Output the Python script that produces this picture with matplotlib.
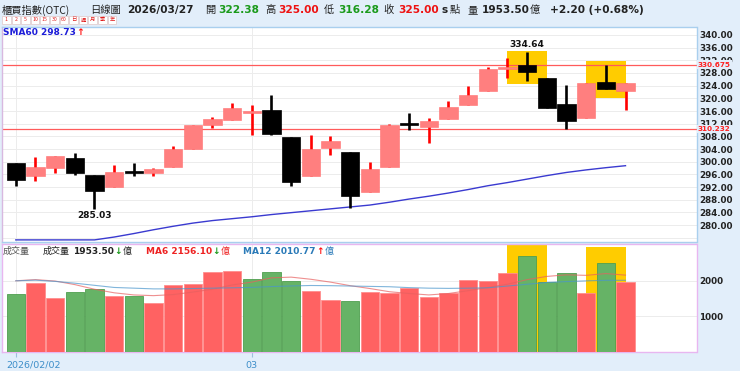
import matplotlib
matplotlib.use("Agg")
import matplotlib.pyplot as plt
import numpy as np

# ---------------- data ----------------
opens  = [299.7, 295.5, 298.1, 301.1, 295.9, 292.0, 296.9, 296.4, 298.4, 303.9,
          311.7, 313.2, 315.3, 316.3, 307.9, 295.5, 304.2, 303.0, 290.5, 298.4,
          311.7, 311.0, 313.5, 317.9, 322.4, 329.2, 330.5, 326.5, 318.1, 313.7,
          325.1, 322.38]
highs  = [299.7, 301.4, 301.7, 302.6, 295.9, 298.9, 299.5, 298.1, 305.0, 311.5,
          314.2, 318.4, 317.8, 321.1, 307.9, 308.4, 308.1, 303.0, 300.0, 311.9,
          315.3, 313.7, 319.2, 323.9, 330.0, 332.8, 334.64, 326.5, 324.2, 324.9,
          330.675, 325.00]
lows   = [292.4, 294.0, 296.5, 295.9, 285.03, 292.0, 295.5, 295.6, 298.4, 303.9,
          310.5, 313.2, 308.4, 308.3, 292.4, 295.5, 302.0, 285.5, 290.5, 298.4,
          310.0, 306.0, 313.5, 317.9, 322.4, 326.5, 325.6, 316.8, 310.232, 313.7,
          322.8, 316.28]
closes = [294.2, 298.2, 301.7, 296.3, 290.7, 296.6, 296.5, 297.7, 303.9, 311.5,
          313.4, 316.8, 316.1, 308.6, 293.7, 304.1, 306.6, 289.1, 297.6, 311.6,
          311.7, 312.8, 317.2, 321.0, 329.3, 329.7, 328.4, 317.0, 312.8, 324.9,
          322.8, 325.00]
sma60  = [275.3, 275.3, 275.3, 275.3, 275.3, 276.2, 277.3, 278.5, 279.6, 280.6,
          281.4, 282.0, 282.6, 283.3, 283.9, 284.5, 285.1, 285.7, 286.3, 287.2,
          288.2, 289.1, 290.1, 291.2, 292.4, 293.4, 294.5, 295.6, 296.6, 297.4,
          298.1, 298.73]
volumes = [1625, 1941, 1521, 1672, 1765, 1577, 1560, 1373, 1877, 1896,
           2232, 2278, 2045, 2250, 1998, 1700, 1457, 1429, 1690, 1662,
           1802, 1550, 1653, 2017, 1980, 2222, 2689, 1961, 2222, 1653,
           2484, 1953.5]
ma6  = [1997, 2030, 1990, 1890, 1760, 1660, 1600, 1580, 1610, 1680,
        1760, 1880, 1960, 2080, 2100, 2040, 1960, 1860, 1780, 1690,
        1640, 1600, 1640, 1720, 1810, 1900, 2030, 2120, 2165, 2150,
        2200, 2156.1]
ma12 = [1997, 2015, 1980, 1930, 1870, 1810, 1790, 1770, 1770, 1780,
        1790, 1800, 1812, 1835, 1852, 1865, 1860, 1850, 1840, 1830,
        1805, 1790, 1784, 1790, 1800, 1850, 1900, 1950, 1975, 1995,
        2010, 2010.77]
month_ticks = [0, 12]
month_labels = ["2026/02/02", "03"]
hi_lines = [330.675, 310.232]
highlight_idx = [26, 30]
highlight_price = [(324.4, 335.0), (320.2, 331.9)]
highlight_vol_top = [2997, 2950]
max_label = (26, 334.64)
min_label = (4, 285.03)
price_ticks = list(range(280, 341, 4))
vol_ticks = [1000, 2000]

# ---------------- figure ----------------
W, H = 740, 371
BG = '#e2eefa'
fig = plt.figure(figsize=(W / 100, H / 100), dpi=100, facecolor=BG)

def rect(x0, y0, x1, y1):
    return [x0 / W, 1 - y1 / H, (x1 - x0) / W, (y1 - y0) / H]

def fx(x):
    return x / W

def fy(y):
    return 1 - y / H

n = len(closes)
xs = np.arange(n)
XL = (-0.702, 34.61)

# price axes
ax = fig.add_axes(rect(2, 26.7, 696.5, 242.3))
ax.set_facecolor('white')
ax.set_xlim(*XL)
ax.set_ylim(274.54, 342.62)
for s in ax.spines.values():
    s.set_color('#a9cfee')
    s.set_linewidth(1.0)
ax.spines['left'].set_color('#d8b8e0')
ax.set_xticks([])
ax.yaxis.tick_right()
ax.set_yticks(price_ticks)
ax.set_yticklabels([f"{t:.2f}" for t in price_ticks])
ax.tick_params(axis='y', length=0, pad=2, labelsize=6.3, labelcolor='#222222')
for lab in ax.get_yticklabels():
    lab.set_fontweight('bold')
for g in np.arange(276, 341, 4):
    ax.axhline(g, color='#ececec', lw=0.7, zorder=0)
for m in month_ticks:
    ax.axvline(m, color='#ececec', lw=0.7, zorder=0)

# highlight boxes
for idx, (lo, hi) in zip(highlight_idx, highlight_price):
    ax.add_patch(plt.Rectangle((idx - 1.0, lo), 2.0, hi - lo, color='#ffcc00', zorder=1, lw=0))

# horizontal red lines
for v in hi_lines:
    ax.axhline(v, color='#ff5a5a', lw=0.9, zorder=2)
    ax.text(1.002, v, f"{v:.3f}", transform=ax.get_yaxis_transform(), color='#ff2020',
            fontsize=5.2, fontweight='bold', va='center', ha='left', zorder=10,
            bbox=dict(boxstyle='square,pad=0.15', fc=BG, ec='none'), clip_on=False)

# SMA60
ax.plot(xs, sma60, color='#3a3ad0', lw=1.0, zorder=2)

# candles
for k in range(n):
    o, h, l, c = opens[k], highs[k], lows[k], closes[k]
    up = c > o
    ax.vlines(k, l, h, color='#ff0000' if up else 'black', lw=1.9, zorder=3)
    bot = min(o, c)
    ht = max(abs(c - o), 0.6)
    if up:
        ax.bar(k, ht, bottom=bot, width=0.93, color='#ff7f7f', edgecolor='#ff7070', lw=0.4, zorder=4)
    else:
        ax.bar(k, ht, bottom=bot, width=0.93, color='black', edgecolor='black', lw=0.5, zorder=4)

ax.text(max_label[0], max_label[1] + 0.8, f"{max_label[1]:.2f}", ha='center', va='bottom',
        fontsize=6.5, fontweight='bold', color='#111111', zorder=6)
ax.text(min_label[0], min_label[1] - 0.6, f"{min_label[1]:.2f}", ha='center', va='top',
        fontsize=6.5, fontweight='bold', color='#111111', zorder=6)

# volume axes
av = fig.add_axes(rect(2, 244.3, 696.5, 351.9))
av.set_facecolor('white')
av.set_xlim(*XL)
av.set_ylim(0, 3022)
for s in av.spines.values():
    s.set_color('#e8b6f0')
    s.set_linewidth(1.0)
av.yaxis.tick_right()
av.set_yticks(vol_ticks)
av.set_yticklabels([str(t) for t in vol_ticks])
av.tick_params(axis='y', length=0, pad=2, labelsize=6.3, labelcolor='#222222')
for lab in av.get_yticklabels():
    lab.set_fontweight('bold')
for g in vol_ticks:
    av.axhline(g, color='#ececec', lw=0.7, zorder=0)
for m in month_ticks:
    av.axvline(m, color='#ececec', lw=0.7, zorder=0)
av.set_xticks(month_ticks)
av.set_xticklabels([])
av.tick_params(axis='x', length=3.5, color='#9cc0dc', width=0.8)

for idx, top in zip(highlight_idx, highlight_vol_top):
    av.add_patch(plt.Rectangle((idx - 1.0, 0), 2.0, top, color='#ffcc00', zorder=1, lw=0))

for k in range(n):
    up = (closes[k] > closes[k - 1]) if k > 0 else (closes[k] > opens[k])
    if up:
        av.bar(k, volumes[k], width=0.93, color='#ff6262', edgecolor='#ff8e8e', lw=0.6, zorder=3)
    else:
        av.bar(k, volumes[k], width=0.93, color='#66b366', edgecolor='#4f9f4f', lw=0.6, zorder=3)

av.plot(xs, ma6, color='#e86060', lw=0.8, alpha=0.7, zorder=4)
av.plot(xs, ma12, color='#4a96cc', lw=0.8, alpha=0.7, zorder=4)

# x labels (figure coordinates)
fig.text(fx(6), fy(365), month_labels[0], color='#3d8ec9', fontsize=6.8, ha='left', va='center')
fig.text(fx(251.8), fy(365), month_labels[1], color='#3d8ec9', fontsize=6.8, ha='center', va='center')

# ---------------- header ----------------
CJK = ['Noto Sans CJK TC', 'DejaVu Sans']
HY = 10.3
def htxt(x, s, color='#222222', bold=False, fam=None, size=7.6):
    fig.text(fx(x), fy(HY), s, color=color, fontsize=size,
             fontweight='bold' if bold else 'normal',
             family=fam if fam else 'DejaVu Sans', ha='left', va='center')

htxt(2, "櫃買指數(OTC)", fam=CJK, size=7.4)
htxt(90, "日線圖", fam=CJK, size=7.4)
htxt(127, "2026/03/27", bold=True, size=7.6)
htxt(205, "開", fam=CJK, size=7.4)
htxt(218, "322.38", color='#1a9a1a', bold=True)
htxt(265, "高", fam=CJK, size=7.4)
htxt(278, "325.00", color='#ee1111', bold=True)
htxt(324, "低", fam=CJK, size=7.4)
htxt(338, "316.28", color='#1a9a1a', bold=True)
htxt(383, "收", fam=CJK, size=7.4)
htxt(398, "325.00", color='#ee1111', bold=True)
htxt(441, "s", bold=True)
htxt(450, "點", fam=CJK, size=7.4)
htxt(468, "量", fam=CJK, size=7.4)
htxt(482, "1953.50", bold=True)
htxt(530, "億", fam=CJK, size=7.4)
htxt(550, "+2.20 (+0.68%)", bold=True)

# period buttons
btns = ["1", "2", "5", "10", "15", "30", "60", "日", "週", "月", "季", "年"]
bx = 2.0
for b in btns:
    w = 8.6
    fig.patches.append(plt.Rectangle((fx(bx), fy(24.2)), w / W, 8.6 / H, transform=fig.transFigure,
                                     fc='white', ec='#e0c8c8', lw=0.5))
    fig.text(fx(bx + w / 2), fy(19.9), b, fontsize=3.8, color='#e02020', ha='center', va='center',
             family=CJK)
    bx += w + 1.0

# SMA60 label
fig.text(fx(3), fy(32.5), "SMA60 298.73", color='#1c1cd8', fontsize=6.5, fontweight='bold',
         ha='left', va='center')
fig.text(fx(76), fy(32.5), "↑", color='#ff1010', fontsize=6.8, fontweight='bold',
         ha='left', va='center')

# volume header
VY = 251.3
def vtxt(x, s, color='#222222', bold=False, fam=None, size=6.5):
    fig.text(fx(x), fy(VY), s, color=color, fontsize=size,
             fontweight='bold' if bold else 'normal',
             family=fam if fam else 'DejaVu Sans', ha='left', va='center')

vtxt(3, "成交量", color='#555555', fam=CJK)
vtxt(43, "成交量", color='#222222', fam=CJK)
vtxt(73, "1953.50", bold=True)
vtxt(114, "↓", color='#1a9a1a', bold=True)
vtxt(123, "億", color='#222222', fam=CJK)
vtxt(146, "MA6 2156.10", color='#ee2222', bold=True)
vtxt(212, "↓", color='#1a9a1a', bold=True)
vtxt(221, "億", color='#ee2222', fam=CJK)
vtxt(243, "MA12 2010.77", color='#2a7ab8', bold=True)
vtxt(316, "↑", color='#ff1010', bold=True)
vtxt(325, "億", color='#2a7ab8', fam=CJK)

fig.savefig("out.png", dpi=100, facecolor=BG)
